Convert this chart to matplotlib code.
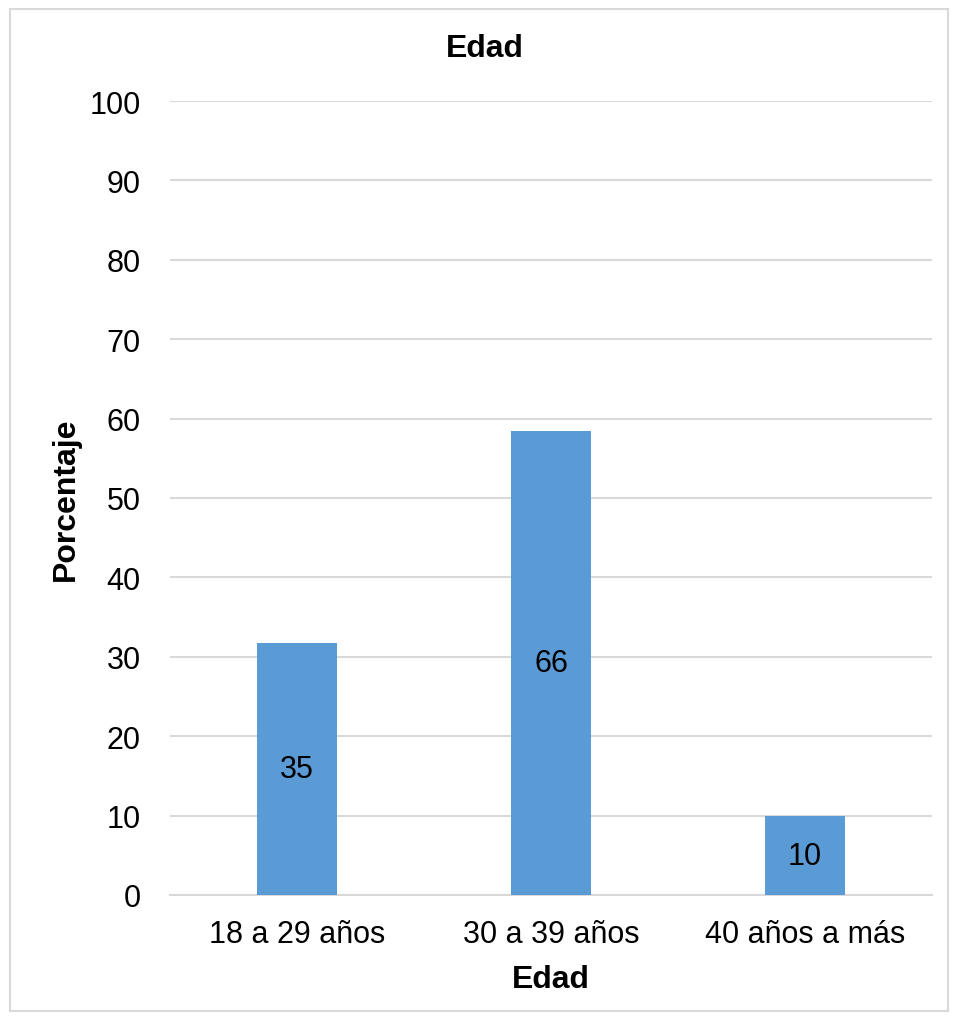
import matplotlib
matplotlib.use("Agg")
import matplotlib.pyplot as plt
from matplotlib.patches import Rectangle

plt.rcParams['font.family'] = ['Liberation Sans', 'DejaVu Sans']

# Datos
categorias = ["18 a 29 años", "30 a 39 años", "40 años a más"]
porcentaje = [31.7, 58.4, 9.9]
frecuencia = [35, 66, 10]
yticks = [0, 10, 20, 30, 40, 50, 60, 70, 80, 90, 100]

fig = plt.figure(figsize=(9.56, 10.2), dpi=100)
ax = fig.add_axes([170 / 956, 1 - 896 / 1020, 762 / 956, 794 / 1020])

x = list(range(len(categorias)))
bars = ax.bar(x, porcentaje, width=0.315, color="#5B9BD5", zorder=3)

for rect, n in zip(bars, frecuencia):
    ax.text(rect.get_x() + rect.get_width() / 2, rect.get_height() / 2, str(n),
            ha="center", va="center", fontsize=22, color="black", zorder=4)

ax.set_xlim(-0.5, len(categorias) - 0.5)
ax.set_ylim(0, 100)
ax.set_yticks(yticks)
ax.set_xticks(x)
ax.set_xticklabels(categorias)
ax.tick_params(axis="both", length=0, labelsize=22, colors="black")
ax.tick_params(axis="y", pad=21)
ax.tick_params(axis="x", pad=17)

ax.yaxis.grid(True, color="#D9D9D9", linewidth=1.5, zorder=0)
for s in ["top", "right", "left"]:
    ax.spines[s].set_visible(False)
ax.spines["bottom"].set_color("#D9D9D9")
ax.spines["bottom"].set_linewidth(1.5)

# Título centrado en el área del gráfico completo
fig.text(485 / 956, 1 - 49 / 1020, "Edad", fontsize=23, fontweight="bold",
         ha="center", va="center")
ax.set_xlabel("Edad", fontsize=23, fontweight="bold", labelpad=11)
ax.set_ylabel("Porcentaje", fontsize=23, fontweight="bold", labelpad=6)

# Marco exterior del gráfico
fig.patches.append(Rectangle((10 / 956, 8 / 1020), 938 / 956, 1002 / 1020,
                             transform=fig.transFigure, fill=False,
                             edgecolor="#D9D9D9", linewidth=1.5))

fig.savefig("out.png", dpi=100)
